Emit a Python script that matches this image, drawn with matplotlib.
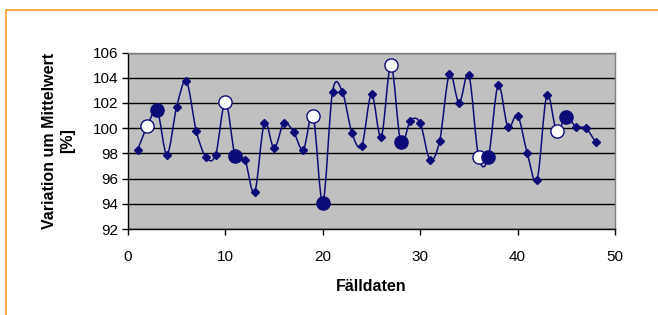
import numpy as np
import matplotlib
matplotlib.use("Agg")
import matplotlib.pyplot as plt
from matplotlib.path import Path
from matplotlib.patches import PathPatch, Rectangle

plt.rcParams['font.family'] = ['Liberation Sans', 'DejaVu Sans']

# Fälldaten 1..48, Variation um Mittelwert [%]
x_vals = list(range(1, 49))
y_vals = [98.3, 100.2, 101.4, 97.9, 101.7, 103.7, 99.8, 97.7, 97.9, 102.1,
          97.8, 97.5, 94.9, 100.4, 98.4, 100.4, 99.7, 98.3, 101.0, 94.1,
          102.9, 102.9, 99.6, 98.6, 102.7, 99.3, 105.0, 98.9, 100.6, 100.4,
          97.5, 99.0, 104.3, 102.0, 104.2, 97.7, 97.7, 103.4, 100.1, 101.0,
          98.0, 95.9, 102.6, 99.8, 100.9, 100.1, 100.0, 98.9]
open_pts = [2, 10, 19, 27, 36, 44]
filled_pts = [3, 11, 20, 28, 37, 45]

x_ticks = [0, 10, 20, 30, 40, 50]
y_ticks = [92, 94, 96, 98, 100, 102, 104, 106]

navy = '#0c0c78'

fig = plt.figure(figsize=(6.58, 3.15), dpi=100)
fig.patches.append(Rectangle((6 / 658, -0.1), 1.2, 1 - 10 / 315 + 0.1,
                             transform=fig.transFigure, fill=False,
                             edgecolor='#f7a530', linewidth=1.3))
ax = fig.add_axes([128 / 658, 1 - 229 / 315, (615 - 128) / 658, (229 - 52.5) / 315])
ax.set_facecolor('#c0c0c0')

# smoothed line (Excel style) as bezier path through the points
pts = np.column_stack([x_vals, y_vals]).astype(float)
verts = [pts[0]]
codes = [Path.MOVETO]
for i in range(len(pts) - 1):
    p0 = pts[max(i - 1, 0)]
    p1 = pts[i]
    p2 = pts[i + 1]
    p3 = pts[min(i + 2, len(pts) - 1)]
    verts += [p1 + (p2 - p0) / 6, p2 - (p3 - p1) / 6, p2]
    codes += [Path.CURVE4] * 3
ax.add_patch(PathPatch(Path(verts, codes), fill=False, edgecolor=navy,
                       linewidth=1.1, zorder=3))

ax.plot(x_vals, y_vals, linestyle='none', marker='D', markersize=4.5,
        color=navy, zorder=4)
ax.plot(open_pts, [y_vals[i - 1] for i in open_pts], linestyle='none',
        marker='o', markersize=9.5, markerfacecolor='white',
        markeredgecolor=navy, markeredgewidth=1.0, zorder=5)
ax.plot(filled_pts, [y_vals[i - 1] for i in filled_pts], linestyle='none',
        marker='o', markersize=9.5, markerfacecolor=navy,
        markeredgecolor=navy, zorder=5)

ax.set_xlim(0, 50)
ax.set_ylim(92, 106)
ax.set_xticks(x_ticks)
ax.set_yticks(y_ticks)
ax.yaxis.grid(True, color='black', linewidth=1.0)
ax.set_axisbelow(True)
for s in ax.spines.values():
    s.set_color('#808080')
    s.set_linewidth(1.0)
ax.spines['left'].set_color('black')
ax.spines['bottom'].set_color('black')
ax.tick_params(axis='both', direction='out', length=4, width=1,
               labelsize=11, colors='black', pad=3)
ax.tick_params(axis='x', pad=11)

ax.set_xlabel('Fälldaten', fontsize=11.5, fontweight='bold', labelpad=11)
ax.set_ylabel('Variation um Mittelwert\n[%]', fontsize=11.5,
              fontweight='bold', labelpad=13)

fig.savefig('out.png', dpi=100)
